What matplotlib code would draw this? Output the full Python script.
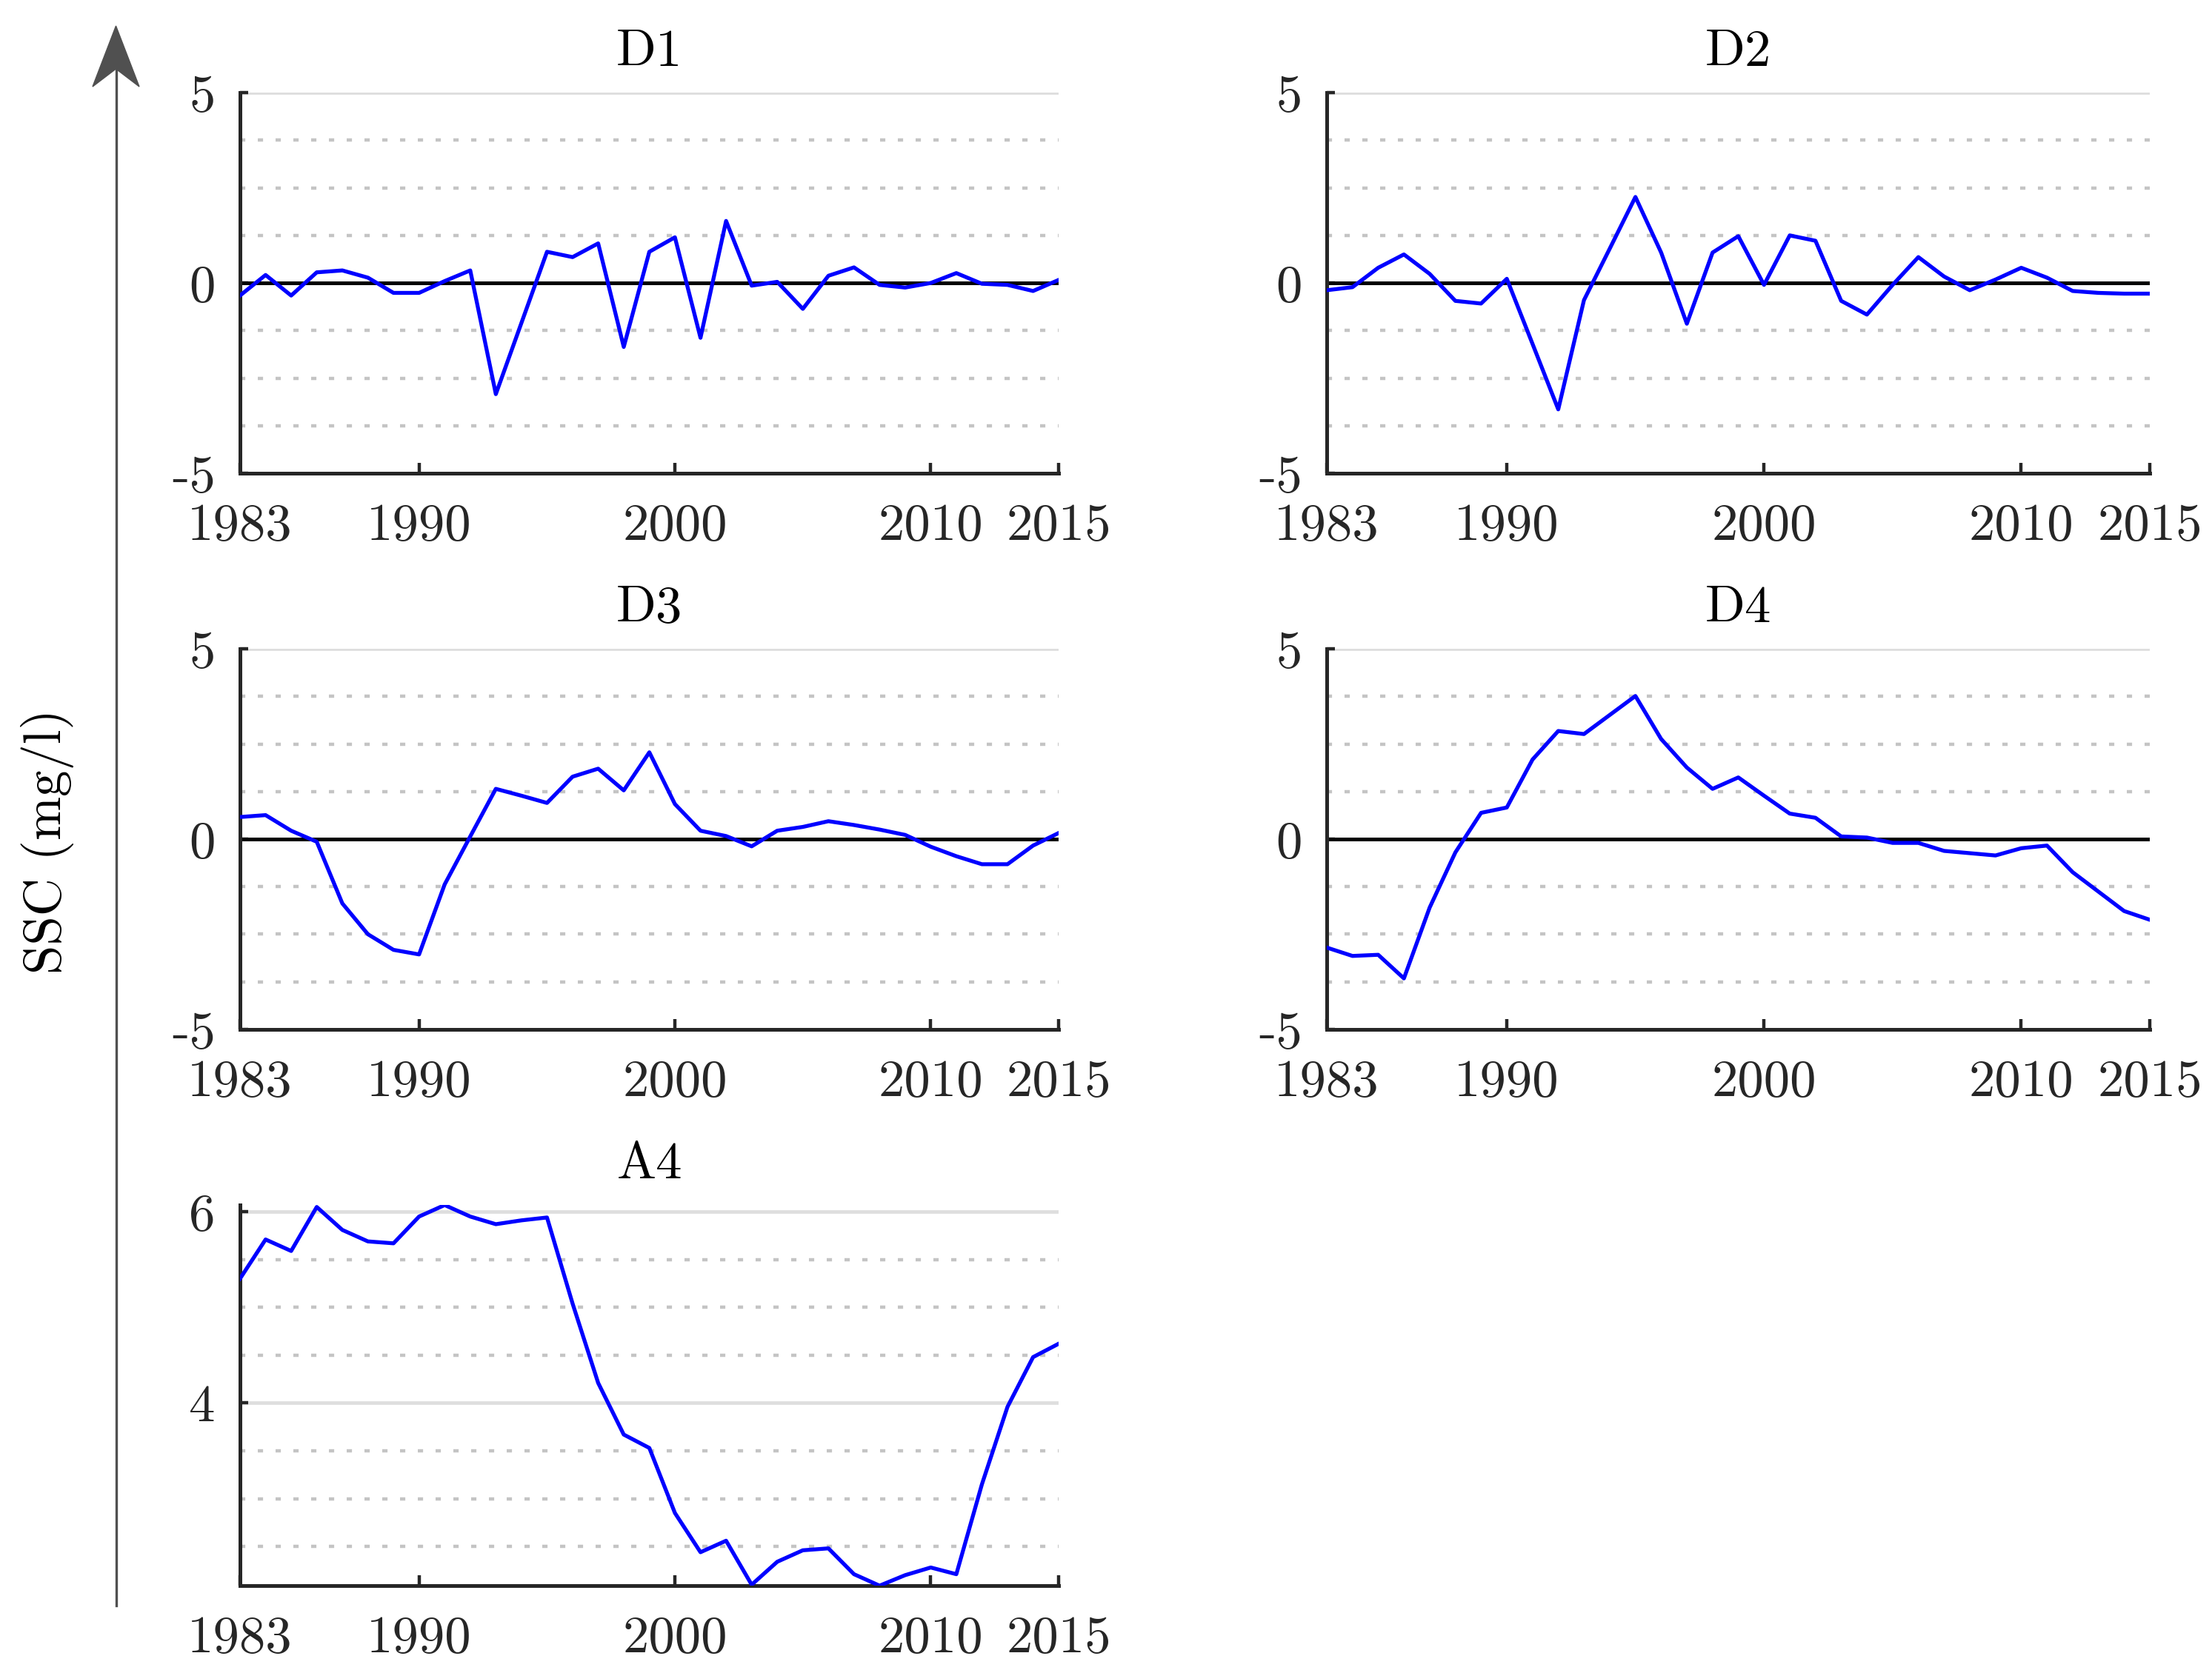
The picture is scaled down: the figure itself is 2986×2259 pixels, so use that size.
import numpy as np
import matplotlib.pyplot as plt
from matplotlib.patches import Polygon
from matplotlib.ticker import MultipleLocator, FixedLocator
from matplotlib.lines import Line2D

plt.rcParams['font.family'] = 'serif'
plt.rcParams['font.serif'] = ['cmr10']
plt.rcParams['axes.unicode_minus'] = False
plt.rcParams['axes.formatter.use_mathtext'] = True

# data (SSC decomposition, mg/l)
years = np.arange(1983, 2016)
d1 = [-0.33, 0.21, -0.33, 0.28, 0.33, 0.14, -0.26, -0.26, 0.05, 0.33, -2.92,
      -1.05, 0.82, 0.68, 1.04, -1.68, 0.82, 1.20, -1.44, 1.63, -0.07, 0.03,
      -0.68, 0.19, 0.41, -0.05, -0.12, 0.0, 0.26, -0.02, -0.05, -0.21, 0.08]
d2 = [-0.19, -0.11, 0.40, 0.75, 0.24, -0.47, -0.54, 0.11, -1.60, -3.32, -0.45,
      0.90, 2.26, 0.80, -1.07, 0.80, 1.23, -0.05, 1.25, 1.11, -0.47, -0.83,
      -0.05, 0.68, 0.17, -0.19, 0.09, 0.40, 0.14, -0.21, -0.26, -0.28, -0.28]
d3 = [0.58, 0.63, 0.22, -0.07, -1.69, -2.50, -2.91, -3.03, -1.19, 0.07, 1.32,
      1.14, 0.95, 1.64, 1.85, 1.28, 2.28, 0.92, 0.22, 0.08, -0.19, 0.22,
      0.32, 0.47, 0.37, 0.25, 0.11, -0.20, -0.45, -0.66, -0.66, -0.17, 0.16]
d4 = [-2.85, -3.07, -3.04, -3.66, -1.80, -0.35, 0.69, 0.83, 2.09, 2.84, 2.76,
      3.26, 3.76, 2.63, 1.88, 1.32, 1.62, 1.14, 0.67, 0.56, 0.07, 0.04,
      -0.10, -0.10, -0.31, -0.37, -0.43, -0.24, -0.17, -0.87, -1.38, -1.89, -2.12]
a4 = [5.30, 5.71, 5.59, 6.05, 5.81, 5.69, 5.67, 5.95, 6.07, 5.95, 5.87,
      5.91, 5.94, 5.04, 4.21, 3.67, 3.53, 2.85, 2.44, 2.56, 2.10, 2.34,
      2.46, 2.48, 2.21, 2.09, 2.20, 2.28, 2.21, 3.15, 3.96, 4.48, 4.62]

titles = ['D1', 'D2', 'D3', 'D4', 'A4']
series = [d1, d2, d3, d4, a4]
xticks = [1983, 1990, 2000, 2010, 2015]
d_yticks = [-5, 0, 5]
a_yticks = [4, 6]
ylabel = 'SSC (mg/l)'

axcol = '#262626'
fs = 25.5

fig = plt.figure(figsize=(14.93, 11.295), dpi=200)

left_col = (0.1085, 0.3701)
right_col = (0.5998, 0.3721)
rows = [0.7171, 0.3847, 0.0522]
h = 0.2275
positions = [
    [left_col[0], rows[0], left_col[1], h],
    [right_col[0], rows[0], right_col[1], h],
    [left_col[0], rows[1], left_col[1], h],
    [right_col[0], rows[1], right_col[1], h],
    [left_col[0], rows[2], left_col[1], h],
]

for i, (name, vals) in enumerate(zip(titles, series)):
    ax = fig.add_axes(positions[i])
    vals = np.array(vals)
    ax.plot(years, vals, color='#0000ff', lw=1.9, zorder=3)
    ax.set_xlim(years[0], years[-1])
    if name == 'A4':
        ax.set_ylim(vals.min(), vals.max())
        ax.yaxis.set_major_locator(FixedLocator(a_yticks))
        ax.set_yticklabels([str(t) for t in a_yticks])
        ax.yaxis.set_minor_locator(MultipleLocator(0.5))
    else:
        ax.set_ylim(-5, 5)
        ax.yaxis.set_major_locator(FixedLocator(d_yticks))
        ax.set_yticklabels([str(t) for t in d_yticks])
        ax.yaxis.set_minor_locator(MultipleLocator(1.25))
        ax.axhline(0, color='k', lw=1.8, zorder=2)
    ax.xaxis.set_major_locator(FixedLocator(xticks))
    ax.set_xticklabels([str(t) for t in xticks])

    ax.set_axisbelow(True)
    ax.grid(True, axis='y', which='major', color='#dedede', lw=1.7, ls='-')
    ax.grid(True, axis='y', which='minor', color='#c4c4c4', lw=1.6,
            ls=(0, (1.6, 3.8)))
    ax.grid(False, axis='x')

    for s in ['top', 'right']:
        ax.spines[s].set_visible(False)
    for s in ['left', 'bottom']:
        ax.spines[s].set_color(axcol)
        ax.spines[s].set_linewidth(1.8)
    ax.tick_params(axis='x', which='major', direction='in', length=5, width=1.6,
                   color=axcol, labelcolor=axcol, labelsize=fs, pad=14.5)
    ax.tick_params(axis='y', which='major', direction='in', length=4, width=1.6,
                   color=axcol, labelcolor=axcol, labelsize=fs, pad=12)
    ax.tick_params(axis='y', which='minor', length=0)
    ax.set_title(name, fontsize=fs, pad=13, color='k')

# y label and arrow on the left
fig.text(0.0215, 0.497, ylabel, rotation=90, fontsize=fs, ha='center',
         va='center', color='k')

W, H = 2986, 2259
ax_x = 156.5 / W
fig.add_artist(Line2D([ax_x, ax_x], [(H - 2168) / H, (H - 95) / H],
                      transform=fig.transFigure, color='#505050', lw=1.2))
head = Polygon([[ax_x, (H - 35) / H],
                [ax_x + 31.5 / W, (H - 117) / H],
                [ax_x, (H - 93) / H],
                [ax_x - 31.5 / W, (H - 117) / H]],
               closed=True, transform=fig.transFigure,
               facecolor='#505050', edgecolor='#505050', lw=0.5)
fig.add_artist(head)

fig.savefig('out.png', dpi=200)
